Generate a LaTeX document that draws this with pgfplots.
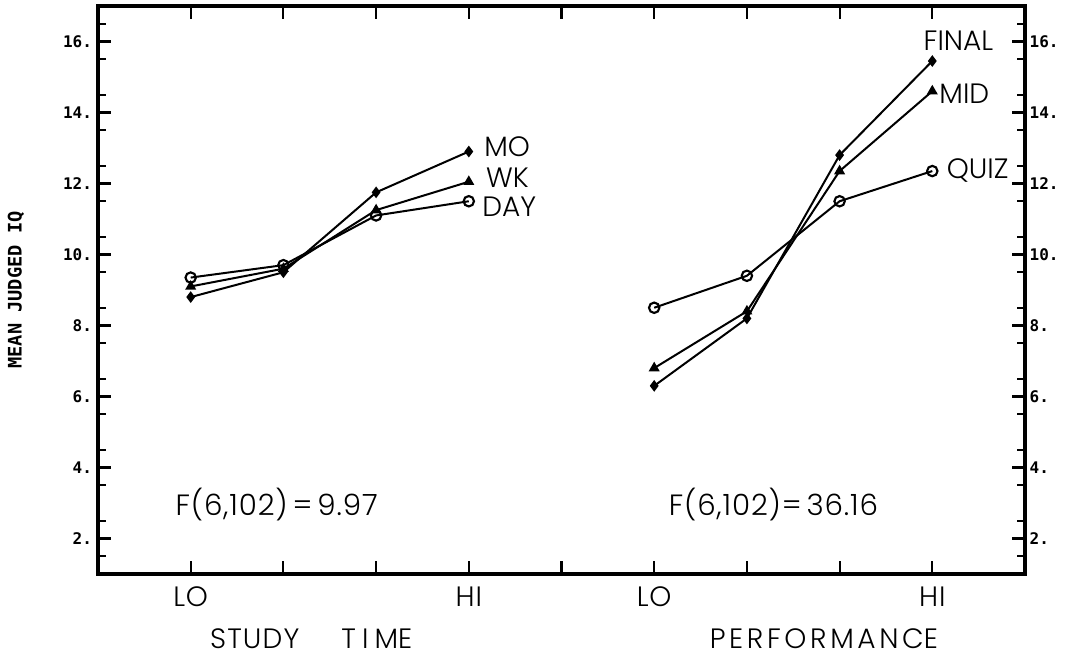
\documentclass[border=0pt]{standalone}
\usepackage{fontspec}
\setmainfont{Poppins}[UprightFont=* Light]
\newfontfamily\monofam{DejaVu Sans Mono}
\usepackage{pgfplots}
\pgfplotsset{compat=1.18}
\begin{document}
\begin{tikzpicture}
\path (-73.5pt,-62.25pt) rectangle (725.25pt,430.5pt);
\begin{axis}[
  at={(0pt,0pt)}, anchor=south west,
  scale only axis, width=695.25pt, height=426pt,
  xmin=0, xmax=10, ymin=1, ymax=17,
  line width=2.4pt,
  tick style={line width=1.6pt, black},
  tick align=inside,
  major tick length=10pt, minor tick length=6pt,
  xtick={1,...,9}, xticklabels={LO,,,HI,,LO,,,HI},
  xtick pos=both,
  xticklabel pos=bottom,
  xticklabel style={font=\fontsize{21}{24}\selectfont\addfontfeature{LetterSpace=3}, yshift=-5pt},
  ytick={2,4,...,16}, minor ytick={1.5,2.5,...,16.5},
  yticklabels={2.,4.,6.,8.,10.,12.,14.,16.},
  ytick pos=both, yticklabel pos=left,
  yticklabel style={font=\monofam\bfseries\fontsize{12}{14}\selectfont},
  ylabel={MEAN JUDGED IQ},
  ylabel style={font=\monofam\bfseries\fontsize{14}{16}\selectfont, at={(axis description cs:-0.0885,0.5)}, anchor=center},
  clip=false,
]
\addplot[black, solid, line width=1.5pt, mark=diamond*, mark size=3.6pt, mark options={solid, fill=black, line width=1pt}] coordinates {(1,8.8)(2,9.5)(3,11.75)(4,12.9)};
\addplot[black, solid, line width=1.5pt, mark=triangle*, mark size=3.8pt, mark options={solid, fill=black, line width=1pt}] coordinates {(1,9.1)(2,9.6)(3,11.25)(4,12.05)};
\addplot[black, solid, line width=1.5pt, mark=o, mark size=3.9pt, mark options={solid, fill=white, line width=1.6pt}] coordinates {(1,9.35)(2,9.7)(3,11.1)(4,11.5)};
\addplot[black, solid, line width=1.5pt, mark=diamond*, mark size=3.6pt, mark options={solid, fill=black, line width=1pt}] coordinates {(6,6.3)(7,8.2)(8,12.8)(9,15.45)};
\addplot[black, solid, line width=1.5pt, mark=triangle*, mark size=3.8pt, mark options={solid, fill=black, line width=1pt}] coordinates {(6,6.8)(7,8.4)(8,12.35)(9,14.6)};
\addplot[black, solid, line width=1.5pt, mark=o, mark size=3.9pt, mark options={solid, fill=white, line width=1.6pt}] coordinates {(6,8.5)(7,9.4)(8,11.5)(9,12.35)};
\begin{scope}[every node/.style={font=\fontsize{21}{24}\selectfont, inner sep=0pt, anchor=west}]
\node at (axis cs:4.15,13.05) {MO};
\node at (axis cs:4.17,12.17) {WK};
\node at (axis cs:4.13,11.35) {DAY};
\node at (axis cs:8.89,16.03) {FINAL};
\node at (axis cs:9.06,14.53) {MID};
\node at (axis cs:9.14,12.37) {QUIZ};
\node[font=\fontsize{22}{25}\selectfont\addfontfeature{LetterSpace=3}] at (axis cs:0.82,2.97) {F(6,102)\,=\,9.97};
\node[font=\fontsize{22}{25}\selectfont\addfontfeature{LetterSpace=3}] at (axis cs:6.14,2.97) {F(6,102)=\,36.16};
\end{scope}
\node[font=\fontsize{21}{24}\selectfont, inner sep=0pt] at ([yshift=-48.5pt]axis cs:2.3,1) {{\addfontfeature{LetterSpace=4}STUDY}\hspace{1.5em}{\addfontfeature{LetterSpace=22}TIM}E};
\node[font=\fontsize{21}{24}\selectfont\addfontfeature{LetterSpace=13}, inner sep=0pt] at ([yshift=-48.5pt]axis cs:7.83,1) {PERFORMANC{\addfontfeature{LetterSpace=0}E}};
\end{axis}
\begin{axis}[
  at={(0pt,0pt)}, anchor=south west,
  scale only axis, width=695.25pt, height=426pt,
  xmin=0, xmax=10, ymin=1, ymax=17,
  hide x axis,
  axis y line*=right,
  y axis line style={draw=none},
  major tick length=0pt,
  ytick={2,4,...,16},
  yticklabels={2.,4.,6.,8.,10.,12.,14.,16.},
  yticklabel style={font=\monofam\bfseries\fontsize{12}{14}\selectfont},
]
\addplot[draw=none] coordinates {(0,1)(10,17)};
\end{axis}
\end{tikzpicture}
\end{document}
